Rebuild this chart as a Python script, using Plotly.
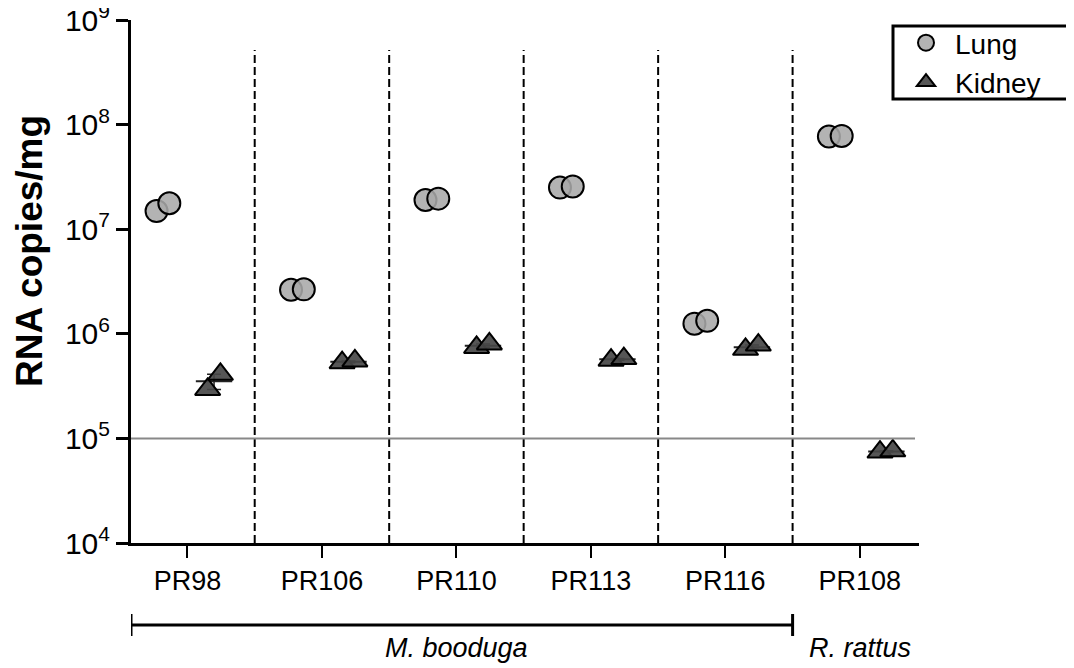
import numpy as np
import plotly.graph_objects as go

# ---- data ----
animals = ["PR98", "PR106", "PR110", "PR113", "PR116", "PR108"]
lung = [[1.49e7, 1.77e7], [2.64e6, 2.66e6], [1.90e7, 1.96e7], [2.50e7, 2.56e7],
        [1.25e6, 1.33e6], [7.7e7, 7.8e7]]
kidney = [[2.94e5, 4.1e5], [5.3e5, 5.5e5], [7.4e5, 8.0e5], [5.6e5, 5.8e5],
          [7.1e5, 7.8e5], [7.4e4, 7.6e4]]
detection_limit = 1e5
species = [("M. booduga", 0, 4), ("R. rattus", 5, 5)]
y_ticks = [1e4, 1e5, 1e6, 1e7, 1e8, 1e9]
y_ticktext = ["10<sup>4</sup>", "10<sup>5</sup>", "10<sup>6</sup>", "10<sup>7</sup>",
              "10<sup>8</sup>", "10<sup>9</sup>"]

# ---- style ----
lung_off = [-0.23, -0.135]
kid_off = [0.15, 0.245]
FONT = "Liberation Sans, Arial, sans-serif"
W, H = 1066, 660            # page adds an 8px body margin
ML, MR, MT, MB = 123, 155, 12, 125
PW, PH = W - ML - MR, H - MT - MB

def px_x(px):  # window pixel -> paper x
    return (px - 8 - ML) / PW

def px_y(py):  # window pixel -> paper y
    return (H - MB - (py - 8)) / PH

fig = go.Figure()

def add_group(vals, offs, name, symbol, color, size, bars):
    xs, ys, mx, my, se = [], [], [], [], []
    for i, v in enumerate(vals):
        for j, val in enumerate(v):
            xs.append(i + offs[j])
            ys.append(val)
        mx.append(i + np.mean(offs))
        my.append(np.mean(v))
        se.append(np.std(v, ddof=1) / np.sqrt(len(v)))
    if bars:
        fig.add_trace(go.Scatter(
            x=mx, y=my, mode="markers", showlegend=False, hoverinfo="skip",
            marker=dict(symbol="line-ew-open", size=26, color="#222",
                        line=dict(color="#222", width=2)),
            error_y=dict(type="data", array=se, color="#222", thickness=1.5, width=7)))
    fig.add_trace(go.Scatter(
        x=xs, y=ys, mode="markers", name=name,
        marker=dict(symbol=symbol, size=size, color=color,
                    line=dict(color="black", width=2))))

add_group(lung, lung_off, "Lung", "circle", "rgba(168,168,168,0.88)", 22, False)
add_group(kidney, kid_off, "Kidney", "triangle-up", "rgba(72,72,72,0.92)", 22, True)

shapes = []
for k in range(len(animals) - 1):
    shapes.append(dict(type="line", xref="x", yref="paper", x0=k + 0.5, x1=k + 0.5,
                       y0=0, y1=px_y(50), line=dict(color="black", width=2, dash="8px,4px")))
shapes.append(dict(type="line", xref="paper", yref="y", x0=0, x1=px_x(915),
                   y0=detection_limit, y1=detection_limit,
                   line=dict(color="#888", width=2)))
# legend frame
shapes.append(dict(type="rect", xref="paper", yref="paper", x0=px_x(893), x1=px_x(1069),
                   y0=px_y(99), y1=px_y(26), line=dict(color="black", width=3),
                   fillcolor="white", layer="below"))

annotations = []
by, cap = px_y(625), 0.021
for name, a, b in species:
    if a != b:
        x0, x1 = -0.42, b + 0.5
        shapes.append(dict(type="line", xref="x", yref="paper", x0=x0, x1=x1,
                           y0=by, y1=by, line=dict(color="black", width=3)))
        for xx in (x0, x1):
            shapes.append(dict(type="line", xref="x", yref="paper", x0=xx, x1=xx,
                               y0=by - cap, y1=by + cap, line=dict(color="black", width=3)))
    annotations.append(dict(text=f"<i>{name}</i>", x=(a + b) / 2, xref="x",
                            y=px_y(648), yref="paper", yanchor="middle", showarrow=False,
                            font=dict(size=27, color="black", family=FONT)))

annotations.append(dict(text="<b>RNA copies/mg</b>", textangle=-90, x=px_x(30), xref="paper",
                        xanchor="center", y=px_y(251), yref="paper", yanchor="middle",
                        showarrow=False, font=dict(size=37, color="black", family=FONT)))

fig.update_layout(
    width=W, height=H,
    margin=dict(l=ML, r=MR, t=MT, b=MB, autoexpand=False),
    paper_bgcolor="white", plot_bgcolor="white",
    font=dict(family=FONT, color="black"),
    shapes=shapes, annotations=annotations,
    legend=dict(x=px_x(897), y=px_y(18), xanchor="left", yanchor="top",
                borderwidth=0, bgcolor="rgba(0,0,0,0)",
                font=dict(size=28, color="black"), itemsizing="trace",
                itemwidth=48, tracegroupgap=0),
    xaxis=dict(range=[-0.42, 5.44], tickvals=list(range(len(animals))), ticktext=animals,
               showline=True, linewidth=3, linecolor="black", ticks="outside",
               ticklen=12, tickwidth=2, tickcolor="black", showgrid=False, zeroline=False,
               tickfont=dict(size=27), automargin=False, ticklabeloverflow="allow"),
    yaxis=dict(type="log", range=[4, 9], tickvals=y_ticks, ticktext=y_ticktext,
               showline=True, linewidth=3, linecolor="black", ticks="outside",
               ticklen=12, tickwidth=3, tickcolor="black", showgrid=False, zeroline=False,
               tickfont=dict(size=30), automargin=False, ticklabeloverflow="allow"),
)

fig.write_html("out.html")
